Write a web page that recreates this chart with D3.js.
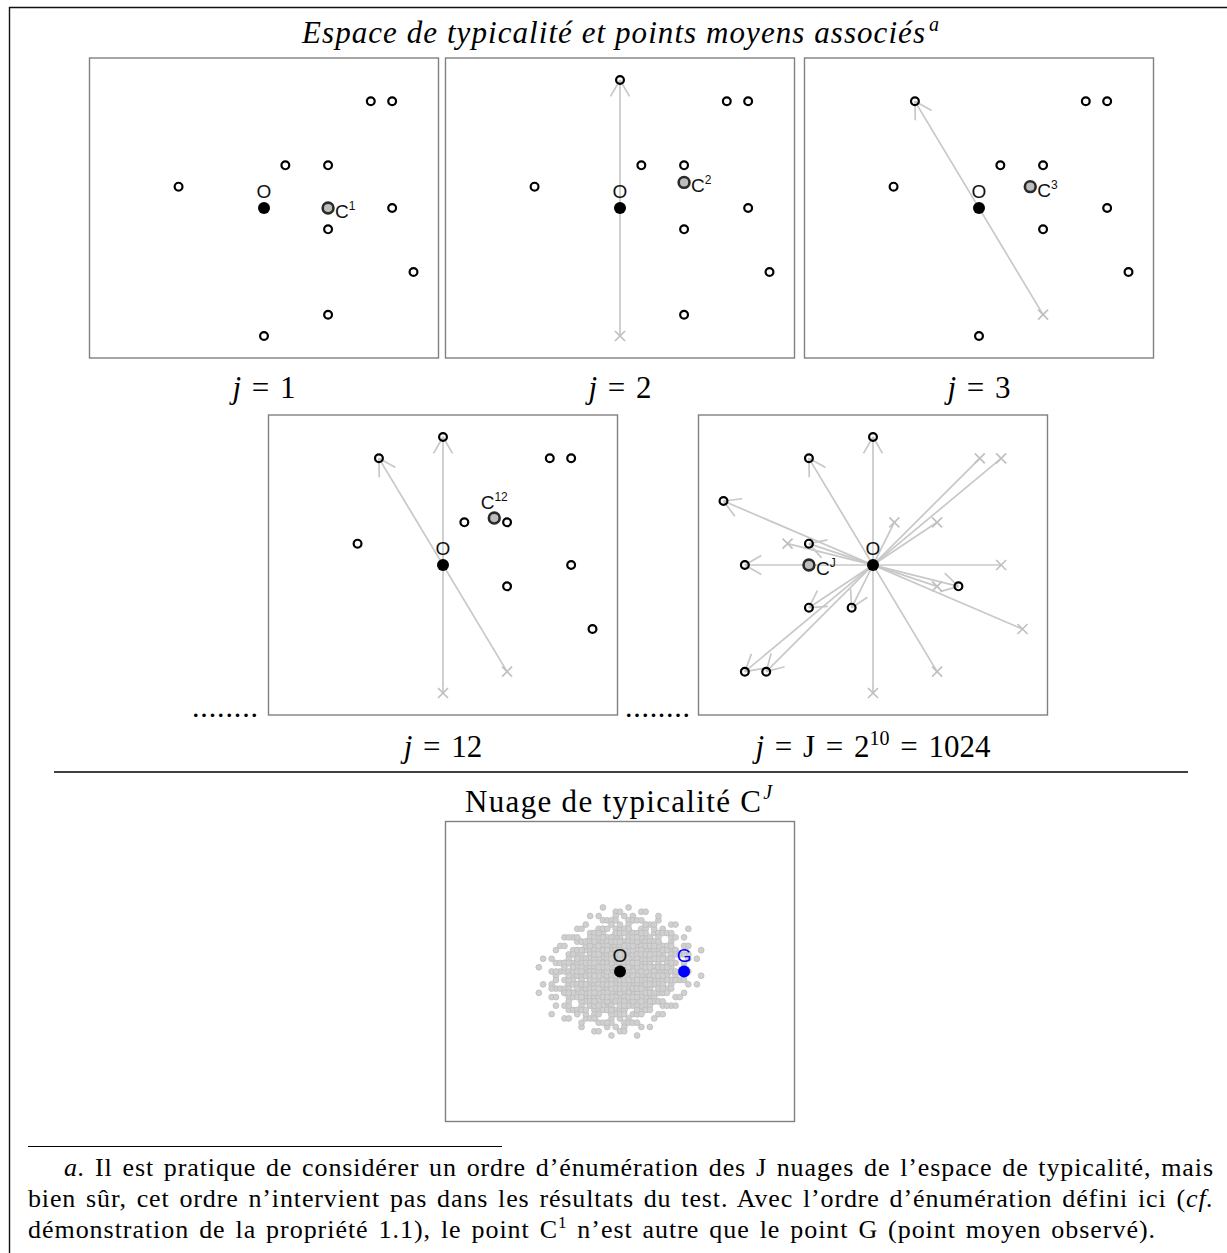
<!DOCTYPE html>
<html><head><meta charset="utf-8">
<script src="https://cdn.jsdelivr.net/npm/d3@7"></script>
<style>body{margin:0;background:#fff} svg{display:block}</style>
</head><body>
<svg id="c" width="1227" height="1253"></svg>
<script>
// ---- data ----
const pointsX = [5, 6, 1, 3, -4, 6, 3, 7, 3, 0];
const pointsY = [5, 5, 2, 2, 1, 0, -1, -3, -5, -6];
const panelIndex = ["1", "2", "3", "12", "J"];
const flippedSets = [[], [9], [8], [8, 9], [0, 1, 2, 3, 4, 5, 6, 7, 8, 9]];
const cLabelPos = ["right", "right", "right", "top", "right"];
const jValues = ["1", "2", "3", "12", "J"];
const titleText = "Espace de typicalité et points moyens associés";
const cloudTitle = "Nuage de typicalité C";
const footLines = [
  "Il est pratique de considérer un ordre d’énumération des J nuages de l’espace de typicalité, mais",
  "bien sûr, cet ordre n’intervient pas dans les résultats du test. Avec l’ordre d’énumération défini ici (",
  "démonstration de la propriété 1.1), le point C"
];

// ---- layout ----
const W = 349, H = 300;
const panelX0 = [89.5, 445.5, 804.5, 268.5, 698.5];
const panelY0 = [58, 58, 58, 415, 415];
const jBase = [398, 398, 398, 757, 757];
const cloudX0 = 445.5, cloudY0 = 821.5;
const svg = d3.select("#c");
const serif = "'Liberation Serif','Times New Roman',serif";
const sans = "'Liberation Sans',Arial,Helvetica,sans-serif";

const x = d3.scaleLinear().domain([-8.17, 8.17]).range([0, W]);
const y = d3.scaleLinear().domain([-7.03, 7.03]).range([H, 0]);

// outer frame
svg.append("line").attr("x1", 9).attr("x2", 1227).attr("y1", 7.5).attr("y2", 7.5).attr("stroke", "#111").attr("stroke-width", 1.4);
svg.append("line").attr("x1", 9.5).attr("x2", 9.5).attr("y1", 7).attr("y2", 1253).attr("stroke", "#111").attr("stroke-width", 1.4);

function frame(g) {
  g.append("rect").attr("x", 0).attr("y", 0).attr("width", W).attr("height", H)
    .attr("fill", "none").attr("stroke", "#808080").attr("stroke-width", 1.4);
}

function oPoint(g) {
  g.append("circle").attr("cx", x(0)).attr("cy", y(0)).attr("r", 6).attr("fill", "#000");
  g.append("text").attr("x", x(0)).attr("y", y(0) - 10).attr("text-anchor", "middle")
    .attr("font-family", sans).attr("font-size", 19).attr("fill", "#111").text("O");
}

panelIndex.forEach((lab, k) => {
  const g = svg.append("g").attr("transform", `translate(${panelX0[k]},${panelY0[k]})`);
  frame(g);
  const flipped = new Set(flippedSets[k]);
  const pts = pointsX.map((px, i) => {
    const s = flipped.has(i) ? -1 : 1;
    return { i, ox: px, oy: pointsY[i], nx: s * px, ny: s * pointsY[i], f: flipped.has(i) };
  });
  // arrows
  pts.filter(p => p.f).forEach(p => {
    const sx = x(p.ox), sy = y(p.oy), ex = x(p.nx), ey = y(p.ny);
    g.append("line").attr("x1", sx).attr("y1", sy).attr("x2", ex).attr("y2", ey)
      .attr("stroke", "#c8c8c8").attr("stroke-width", 1.7);
    const len = Math.hypot(sx - ex, sy - ey);
    const dx = (sx - ex) / len, dy = (sy - ey) / len;
    [Math.PI / 6, -Math.PI / 6].forEach(a => {
      const rx = dx * Math.cos(a) - dy * Math.sin(a), ry = dx * Math.sin(a) + dy * Math.cos(a);
      g.append("line").attr("x1", ex).attr("y1", ey).attr("x2", ex + 19 * rx).attr("y2", ey + 19 * ry)
        .attr("stroke", "#c8c8c8").attr("stroke-width", 1.7);
    });
    const c = 5;
    g.append("path").attr("d", `M${sx - c},${sy - c}L${sx + c},${sy + c}M${sx - c},${sy + c}L${sx + c},${sy - c}`)
      .attr("stroke", "#c0c0c0").attr("stroke-width", 1.7).attr("fill", "none");
  });
  // points
  g.selectAll("circle.pt").data(pts).join("circle").attr("class", "pt")
    .attr("cx", d => x(d.nx)).attr("cy", d => y(d.ny)).attr("r", 3.9)
    .attr("fill", "none").attr("stroke", "#000").attr("stroke-width", 2.2);
  // mean point C
  const cx = d3.mean(pts, d => d.nx), cy = d3.mean(pts, d => d.ny);
  oPoint(g);
  g.append("circle").attr("cx", x(cx)).attr("cy", y(cy)).attr("r", 5.4)
    .attr("fill", "#bdbdbd").attr("stroke", "#2a2a2a").attr("stroke-width", 2.6);
  const t = g.append("text").attr("font-family", sans).attr("font-size", 19).attr("fill", "#111");
  if (cLabelPos[k] === "right") {
    t.attr("x", x(cx) + 7).attr("y", y(cy) + 10);
  } else {
    t.attr("x", x(cx)).attr("y", y(cy) - 9.5).attr("text-anchor", "middle");
  }
  t.append("tspan").text("C");
  t.append("tspan").attr("font-size", 12).attr("dy", -8).text(lab);
});

// j labels
function jLabel(cxp, base, val) {
  const t = svg.append("text").attr("x", cxp).attr("y", base).attr("text-anchor", "middle")
    .attr("font-family", serif).attr("font-size", 31).attr("fill", "#000").attr("word-spacing", 3);
  t.append("tspan").attr("font-style", "italic").text("j");
  if (val === "J") {
    t.append("tspan").text(" = J = 2");
    t.append("tspan").attr("font-size", 20).attr("dy", -12).text("10");
    t.append("tspan").attr("dy", 12).text(" = 1024");
  } else {
    t.append("tspan").text(" = " + val);
  }
}
jValues.forEach((v, k) => {
  jLabel(panelX0[k] + x(0), jBase[k], v);
});

// dotted leaders
[[192, 258], [625, 690]].forEach(([a, b]) => {
  const t = svg.append("text").attr("x", a).attr("y", 717).attr("font-family", serif)
    .attr("font-size", 30).text("........");
  const w = t.node().getComputedTextLength();
  t.attr("letter-spacing", (b - a - w) / 7);
});

// title
{
  const t = svg.append("text").attr("x", 302).attr("y", 43).attr("font-family", serif)
    .attr("font-size", 31).attr("font-style", "italic").attr("fill", "#000");
  t.append("tspan").text(titleText);
  const w = t.node().getComputedTextLength();
  t.attr("letter-spacing", (623 - w) / (titleText.length - 1));
  t.append("tspan").attr("font-size", 20).attr("dx", 3).attr("dy", -12).text("a");
}

// rule
svg.append("line").attr("x1", 54).attr("x2", 1188).attr("y1", 772).attr("y2", 772).attr("stroke", "#000").attr("stroke-width", 1.3);

// cloud title
{
  const t = svg.append("text").attr("x", 465).attr("y", 812).attr("font-family", serif)
    .attr("font-size", 31).attr("fill", "#000");
  t.append("tspan").text(cloudTitle);
  const w = t.node().getComputedTextLength();
  t.attr("letter-spacing", (296 - w) / (cloudTitle.length - 1));
  t.append("tspan").attr("font-size", 20).attr("font-style", "italic").attr("dx", 1).attr("dy", -13).text("J");
}

// cloud panel
{
  const g = svg.append("g").attr("transform", `translate(${cloudX0},${cloudY0})`);
  frame(g);
  const n = pointsX.length;
  const cloud = d3.range(1 << n).map(m => {
    let sx = 0, sy = 0;
    for (let i = 0; i < n; i++) {
      const s = (m >> (n - 1 - i)) & 1 ? -1 : 1;
      sx += s * pointsX[i]; sy += s * pointsY[i];
    }
    return [sx / n, sy / n];
  });
  g.selectAll("circle.cl").data(cloud).join("circle").attr("class", "cl")
    .attr("cx", d => x(d[0])).attr("cy", d => y(d[1])).attr("r", 2.9)
    .attr("fill", "#d0d0d0").attr("stroke", "#bdbdbd").attr("stroke-width", 0.8);
  oPoint(g);
  const gx = d3.mean(pointsX), gy = d3.mean(pointsY);
  g.append("circle").attr("cx", x(gx)).attr("cy", y(gy)).attr("r", 6).attr("fill", "#0000ff");
  g.append("text").attr("x", x(gx)).attr("y", y(gy) - 10).attr("text-anchor", "middle")
    .attr("font-family", sans).attr("font-size", 19).attr("fill", "#0000ff").text("G");
}

// footnote
svg.append("line").attr("x1", 28).attr("x2", 502).attr("y1", 1146.5).attr("y2", 1146.5).attr("stroke", "#000").attr("stroke-width", 1);
function justify(t, target) {
  const w = t.node().getComputedTextLength();
  const s = t.text();
  const nSp = (s.match(/ /g) || []).length;
  const extra = target - w;
  t.attr("letter-spacing", 0.7 * extra / (s.length - 1));
  t.attr("word-spacing", 0.3 * extra / nSp);
}
{
  const fs = 26;
  const t1 = svg.append("text").attr("x", 64).attr("y", 1176).attr("font-family", serif).attr("font-size", fs);
  t1.append("tspan").attr("font-style", "italic").text("a.");
  t1.append("tspan").text(" " + footLines[0]);
  justify(t1, 1213 - 64);
  const t2 = svg.append("text").attr("x", 28).attr("y", 1207).attr("font-family", serif).attr("font-size", fs);
  t2.append("tspan").text(footLines[1]);
  t2.append("tspan").attr("font-style", "italic").text("cf.");
  justify(t2, 1213 - 28);
  const t3 = svg.append("text").attr("x", 28).attr("y", 1238).attr("font-family", serif).attr("font-size", fs);
  t3.append("tspan").text(footLines[2]);
  t3.append("tspan").attr("font-size", 17).attr("dy", -10).text("1");
  t3.append("tspan").attr("dy", 10).text(" n’est autre que le point G (point moyen observé).");
  justify(t3, 1155 - 28);
}
</script>
</body></html>
